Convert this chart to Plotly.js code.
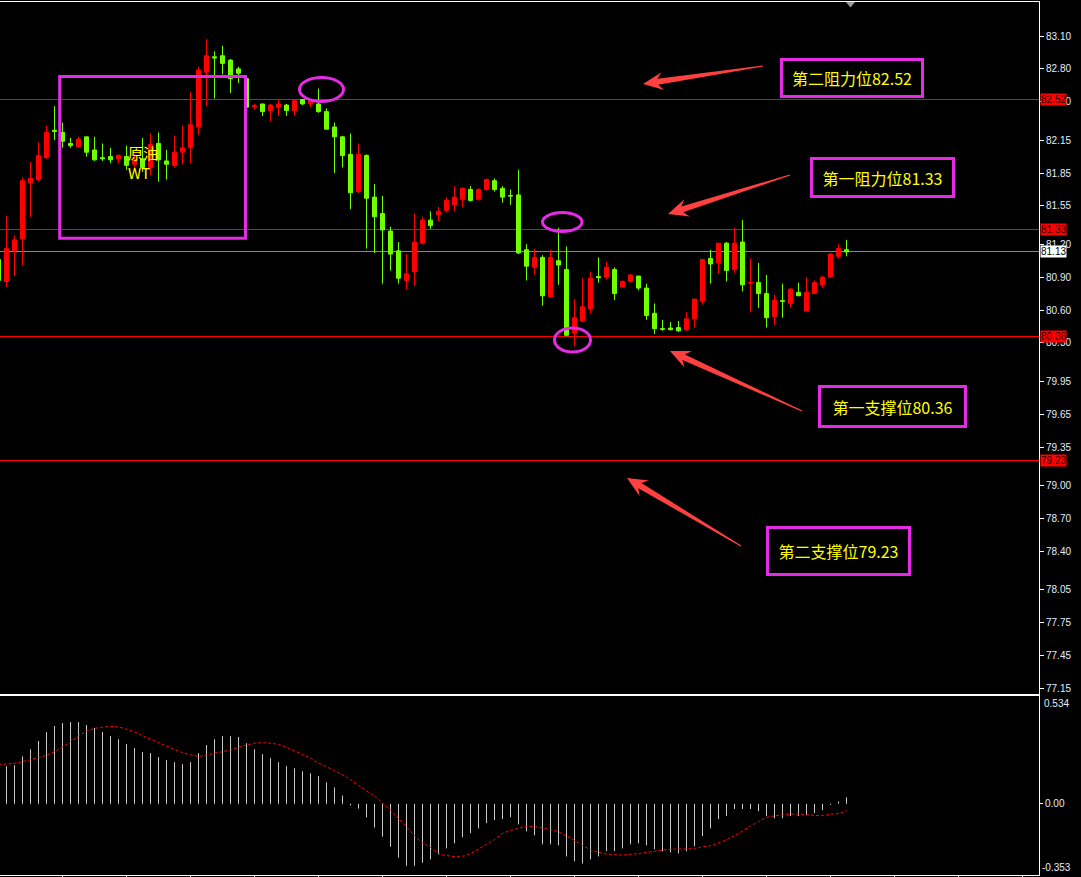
<!DOCTYPE html>
<html>
<head>
<meta charset="utf-8">
<script src="https://cdn.plot.ly/plotly-3.0.1.min.js"></script>
<style>
  html, body { margin: 0; padding: 0; background: #000; overflow: hidden; }
  #chart { width: 1081px; height: 877px; }
</style>
</head>
<body>
<div id="chart"></div>
<script>
// Hourly WTI crude candles, first entry is the bar just off the left edge
const openP = [81.06,
  80.86, 81.14, 81.25, 81.76, 81.79, 81.99, 82.24, 82.22, 82.12, 82.09,
  82.18, 82.06, 81.99, 82.00, 81.98, 82.00, 81.93, 81.98, 81.90, 82.12,
  81.96, 81.92, 82.04, 82.08, 82.27, 82.77, 82.91, 82.92, 82.88, 82.80,
  82.71, 82.455, 82.48, 82.42, 82.45, 82.47, 82.42, 82.52, 82.48, 82.48,
  82.41, 82.27, 82.18, 82.02, 81.68, 82.01, 81.63, 81.48, 81.32, 81.14,
  80.87, 80.95, 81.21, 81.42, 81.47, 81.51, 81.56, 81.61, 81.70, 81.61,
  81.70, 81.78, 81.71, 81.645, 81.65, 81.15, 80.99, 81.08, 80.72, 81.05,
  80.97, 80.39, 80.50, 80.61, 80.905, 80.90, 80.97, 80.81, 80.86, 80.91,
  80.80, 80.57, 80.43, 80.435, 80.44, 80.42, 80.52, 80.68, 81.07, 81.03,
  81.21, 80.97, 81.22, 80.845, 80.85, 80.75, 80.54, 80.685, 80.66, 80.76,
  80.59, 80.75, 80.83, 80.90, 81.09, 81.15];
const highP = [81.10,
  81.46, 81.28, 81.81, 81.95, 82.13, 82.28, 82.46, 82.31, 82.17, 82.18,
  82.18, 82.18, 82.12, 82.08, 82.02, 82.10, 82.02, 82.17, 82.21, 82.22,
  82.06, 82.19, 82.28, 82.59, 82.82, 83.07, 82.96, 83.01, 82.89, 82.82,
  82.71, 82.48, 82.48, 82.48, 82.52, 82.48, 82.52, 82.52, 82.52, 82.62,
  82.44, 82.31, 82.19, 82.21, 82.12, 82.02, 81.75, 81.64, 81.36, 81.22,
  81.11, 81.48, 81.45, 81.50, 81.54, 81.63, 81.73, 81.72, 81.73, 81.71,
  81.80, 81.80, 81.73, 81.70, 81.88, 81.20, 81.16, 81.10, 81.15, 81.35,
  81.18, 80.70, 80.89, 80.95, 81.08, 81.04, 80.99, 80.87, 80.93, 80.91,
  80.84, 80.66, 80.51, 80.49, 80.50, 80.58, 80.70, 81.06, 81.15, 81.21,
  81.22, 81.35, 81.42, 81.07, 81.03, 80.92, 80.74, 80.84, 80.80, 80.85,
  80.90, 80.87, 80.91, 81.12, 81.20, 81.24];
const lowP = [80.82,
  80.81, 80.91, 81.01, 81.45, 81.77, 81.98, 82.15, 82.08, 82.08, 82.08,
  82.00, 81.96, 81.96, 81.94, 81.94, 81.88, 81.88, 81.86, 81.83, 81.77,
  81.79, 81.90, 81.93, 81.94, 82.20, 82.46, 82.53, 82.75, 82.58, 82.67,
  82.45, 82.43, 82.37, 82.32, 82.37, 82.37, 82.37, 82.47, 82.45, 82.40,
  82.25, 81.85, 81.90, 81.52, 81.67, 81.16, 81.12, 80.84, 80.96, 80.84,
  80.79, 80.82, 81.20, 81.34, 81.41, 81.49, 81.50, 81.54, 81.59, 81.60,
  81.69, 81.68, 81.58, 81.56, 81.11, 80.87, 80.92, 80.64, 80.71, 80.83,
  80.36, 80.27, 80.49, 80.57, 80.85, 80.88, 80.69, 80.81, 80.85, 80.78,
  80.51, 80.38, 80.41, 80.415, 80.40, 80.41, 80.44, 80.65, 80.84, 80.93,
  80.86, 80.94, 80.77, 80.58, 80.62, 80.44, 80.46, 80.53, 80.62, 80.73,
  80.59, 80.75, 80.80, 80.90, 81.07, 81.09];
const closeP = [80.87,
  81.16, 81.24, 81.78, 81.80, 82.01, 82.22, 82.23, 82.14, 82.10, 82.16,
  82.04, 81.97, 81.98, 81.97, 82.01, 81.92, 81.97, 81.90, 82.11, 81.97,
  81.93, 82.04, 82.08, 82.29, 82.79, 82.92, 82.90, 82.85, 82.71, 82.76,
  82.45, 82.465, 82.41, 82.47, 82.48, 82.42, 82.51, 82.48, 82.51, 82.41,
  82.25, 82.18, 82.01, 81.67, 82.02, 81.62, 81.45, 81.33, 81.11, 80.89,
  80.93, 81.22, 81.42, 81.37, 81.50, 81.60, 81.63, 81.71, 81.60, 81.70,
  81.79, 81.70, 81.63, 81.64, 81.12, 81.00, 81.08, 80.73, 81.08, 81.01,
  80.37, 80.53, 80.63, 80.89, 80.895, 80.99, 80.75, 80.86, 80.92, 80.80,
  80.55, 80.43, 80.425, 80.42, 80.41, 80.52, 80.70, 81.06, 81.02, 81.21,
  80.96, 81.21, 80.83, 80.85, 80.75, 80.53, 80.69, 80.68, 80.79, 80.73,
  80.76, 80.85, 80.90, 81.11, 81.16, 81.13];

// MACD histogram and signal line, one value per candle
const macdHist = [0.18,
  0.186, 0.191, 0.235, 0.270, 0.311, 0.355, 0.385, 0.400, 0.405, 0.405,
  0.390, 0.376, 0.355, 0.335, 0.320, 0.296, 0.276, 0.256, 0.251, 0.231,
  0.216, 0.206, 0.196, 0.206, 0.251, 0.291, 0.320, 0.335, 0.335, 0.331,
  0.300, 0.270, 0.246, 0.226, 0.206, 0.186, 0.176, 0.161, 0.151, 0.137,
  0.106, 0.081, 0.041, -0.008, -0.024, -0.068, -0.118, -0.163, -0.213, -0.267,
  -0.307, -0.307, -0.292, -0.276, -0.251, -0.221, -0.196, -0.166, -0.146, -0.122,
  -0.096, -0.081, -0.076, -0.067, -0.102, -0.137, -0.156, -0.201, -0.201, -0.206,
  -0.261, -0.285, -0.296, -0.276, -0.261, -0.235, -0.235, -0.221, -0.201, -0.196,
  -0.206, -0.226, -0.235, -0.241, -0.246, -0.235, -0.211, -0.161, -0.122, -0.076,
  -0.061, -0.026, -0.026, -0.026, -0.037, -0.061, -0.072, -0.072, -0.061, -0.061,
  -0.057, -0.046, -0.032, -0.006, 0.011, 0.032];
const macdSignal = [0.195,
  0.197, 0.200, 0.209, 0.218, 0.229, 0.241, 0.259, 0.281, 0.308, 0.336,
  0.359, 0.373, 0.379, 0.383, 0.380, 0.370, 0.356, 0.337, 0.320, 0.303,
  0.286, 0.269, 0.254, 0.243, 0.236, 0.241, 0.251, 0.258, 0.268, 0.280,
  0.291, 0.300, 0.302, 0.300, 0.293, 0.279, 0.262, 0.244, 0.226, 0.202,
  0.183, 0.164, 0.143, 0.120, 0.091, 0.064, 0.037, 0.004, -0.031, -0.073,
  -0.114, -0.159, -0.193, -0.216, -0.247, -0.256, -0.262, -0.260, -0.247, -0.224,
  -0.200, -0.177, -0.148, -0.132, -0.122, -0.112, -0.114, -0.120, -0.128, -0.139,
  -0.159, -0.182, -0.206, -0.227, -0.240, -0.249, -0.252, -0.254, -0.251, -0.247,
  -0.241, -0.236, -0.230, -0.226, -0.224, -0.224, -0.221, -0.213, -0.208, -0.193,
  -0.179, -0.157, -0.135, -0.110, -0.089, -0.068, -0.060, -0.055, -0.051, -0.051,
  -0.055, -0.057, -0.059, -0.052, -0.048, -0.034];

// Support / resistance levels
const levelNames = ['第二阻力位', '第一阻力位', '第一支撑位', '第二支撑位'];
const levelValues = [82.52, 81.33, 80.36, 79.23];

// Price scale ticks (right axis)
const priceTicks = [83.10, 82.80, 82.50, 82.15, 81.85, 81.55, 81.20, 80.90, 80.60, 80.30,
  79.95, 79.65, 79.35, 79.00, 78.70, 78.40, 78.05, 77.75, 77.45, 77.15];
const macdMax = 0.534, macdMin = -0.353;
const timeTicks = [7, 15, 23, 31, 39, 47, 55, 63, 71, 79, 87, 95, 103, 111, 119, 127];
const symbolLabel = '原油<br>WT';

// ---- geometry ----
const W = 1081, H = 877;
const M = { l: 0, r: 42, t: 2, b: 2 };
const plotW = W - M.l - M.r, plotH = H - M.t - M.b;
const BAR_PX = 8;                      // horizontal spacing between candles
const xStart = -0.8125;                // first candle centred on a pixel column
const xEnd = xStart + plotW / BAR_PX;
const mainTopPx = 2, mainBotPx = 694, macdTopPx = 696, macdBotPx = 875;
const PX_PER_UNIT = 109.6;             // price scale
const yTop = 83.10 + (36 - mainTopPx) / PX_PER_UNIT;
const yBot = yTop - (mainBotPx - mainTopPx) / PX_PER_UNIT;
const frac = py => (H - M.b - py) / plotH;

// page pixel -> data coordinates on the price panel (for drawn decorations)
const px2x = px => xStart + (px - M.l) / BAR_PX;
const py2p = py => yTop - (py - mainTopPx) / PX_PER_UNIT;

const idx = openP.map((_, k) => k - 1);
const lastClose = closeP[closeP.length - 1];

const UP = '#ff0000', DOWN = '#70ff00';
const MAGENTA = '#e62be6', YELLOW = '#ffff00', ARROW = '#ff4040';
const AXIS_TXT = '#e4ecfa';

// ---- traces ----
const candles = {
  type: 'candlestick', x: idx, open: openP, high: highP, low: lowP, close: closeP,
  xaxis: 'x', yaxis: 'y',
  increasing: { line: { color: UP, width: 1 }, fillcolor: UP },
  decreasing: { line: { color: DOWN, width: 1 }, fillcolor: DOWN },
  whiskerwidth: 0, hoverinfo: 'skip', showlegend: false
};

const hx = [], hy = [];
macdHist.forEach((v, k) => { hx.push(idx[k], idx[k], null); hy.push(0, v, null); });
const hist = {
  type: 'scatter', mode: 'lines', x: hx, y: hy, xaxis: 'x2', yaxis: 'y2',
  line: { color: '#c8c8c8', width: 1 }, hoverinfo: 'skip', showlegend: false
};
const signal = {
  type: 'scatter', mode: 'lines', x: idx, y: macdSignal, xaxis: 'x2', yaxis: 'y2',
  line: { color: '#ff0000', width: 1, dash: '3px,2px', shape: 'spline' },
  hoverinfo: 'skip', showlegend: false
};

// ---- shapes ----
const shapes = [];
levelValues.forEach(v => shapes.push({
  type: 'line', xref: 'x domain', yref: 'y', x0: 0, x1: 1, y0: v, y1: v,
  line: { color: '#ff0000', width: 1 }, layer: 'below'
}));
shapes.push({
  type: 'line', xref: 'x domain', yref: 'y', x0: 0, x1: 1, y0: lastClose, y1: lastClose,
  line: { color: '#7a8a9c', width: 1 }, layer: 'below'
});

// highlight frame around the symbol name
shapes.push({
  type: 'rect', xref: 'x', yref: 'y',
  x0: px2x(59.7), x1: px2x(245.5), y0: py2p(76.5), y1: py2p(238.3),
  line: { color: MAGENTA, width: 3 }
});

// rings around the tested highs / lows
[[299.5, 343.5, 77.5, 101.5], [542.5, 582, 212.5, 231.5], [554.5, 590.5, 328, 352]]
  .forEach(([a, b, c, d]) => shapes.push({
    type: 'circle', xref: 'x', yref: 'y',
    x0: px2x(a), x1: px2x(b), y0: py2p(c), y1: py2p(d),
    line: { color: MAGENTA, width: 3 }
  }));

// tapered pointer arrows, built in pixels then mapped to data space
function arrowPath(tail, tip) {
  const dx = tip[0] - tail[0], dy = tip[1] - tail[1];
  const len = Math.hypot(dx, dy);
  const ux = dx / len, uy = dy / len, nx = -uy, ny = ux;
  const P = (along, side) => [tip[0] - ux * along + nx * side, tip[1] - uy * along + ny * side];
  const pts = [
    tip, P(20, 9), P(15, 3), [tail[0] + nx * 0.6, tail[1] + ny * 0.6],
    [tail[0] - nx * 0.6, tail[1] - ny * 0.6], P(15, -3), P(20, -9)
  ];
  return 'M' + pts.map(p => px2x(p[0]) + ',' + py2p(p[1])).join(' L') + ' Z';
}
[[[763, 66], [643, 84]], [[790, 175], [668, 214]], [[802, 411], [670, 351]], [[741, 546], [627, 478]]]
  .forEach(([tail, tip]) => shapes.push({
    type: 'path', xref: 'x', yref: 'y', path: arrowPath(tail, tip),
    fillcolor: ARROW, line: { width: 0 }
  }));

// chart-shift marker at the top edge
shapes.push({
  type: 'path', xref: 'x', yref: 'y',
  path: 'M' + px2x(846) + ',' + py2p(2) + ' L' + px2x(855) + ',' + py2p(2) + ' L' + px2x(850.5) + ',' + py2p(7.5) + ' Z',
  fillcolor: '#9a9a9a', line: { width: 0 }
});

// ---- annotations ----
const annotations = [];
// price tags on the right scale
levelValues.forEach(v => annotations.push({
  xref: 'paper', yref: 'y', x: 1, y: v, xanchor: 'left', xshift: 1,
  text: v.toFixed(2), showarrow: false, bgcolor: '#ff0000', borderpad: 0,
  font: { family: 'Liberation Sans, Arial, sans-serif', size: 10, color: '#1a0000' }
}));
annotations.push({
  xref: 'paper', yref: 'y', x: 1, y: lastClose, xanchor: 'left', xshift: 1,
  text: lastClose.toFixed(2), showarrow: false, bgcolor: '#ffffff', borderpad: 0,
  font: { family: 'Liberation Sans, Arial, sans-serif', size: 10, color: '#000000' }
});
// MACD scale extremes
annotations.push({
  xref: 'paper', yref: 'y2', x: 1, y: macdMax, xanchor: 'left', yanchor: 'top', xshift: 3,
  text: macdMax.toFixed(3), showarrow: false,
  font: { family: 'Liberation Sans, Arial, sans-serif', size: 10, color: AXIS_TXT }
});
annotations.push({
  xref: 'paper', yref: 'y2', x: 1, y: macdMin, xanchor: 'left', yanchor: 'bottom', xshift: 1,
  text: macdMin.toFixed(3), showarrow: false,
  font: { family: 'Liberation Sans, Arial, sans-serif', size: 10, color: AXIS_TXT }
});
// symbol name
annotations.push({
  xref: 'x', yref: 'y', x: px2x(126), y: py2p(162), xanchor: 'left', yanchor: 'middle',
  text: symbolLabel, align: 'left', showarrow: false,
  font: { family: 'Noto Sans CJK SC, sans-serif', size: 15, color: YELLOW }
});
// level call-out boxes: [centre x, centre y, width, height]
const boxGeom = [[851.5, 77.5, 138, 34], [882, 177, 139, 35], [892, 406, 143, 37], [838, 550.5, 139, 44]];
levelNames.forEach((name, k) => {
  const g = boxGeom[k];
  annotations.push({
    xref: 'x', yref: 'y', x: px2x(g[0]), y: py2p(g[1]), xanchor: 'center', yanchor: 'middle',
    text: name + levelValues[k].toFixed(2), showarrow: false,
    width: g[2], height: g[3], borderpad: 0, borderwidth: 3, bordercolor: MAGENTA,
    font: { family: 'Noto Sans CJK SC, sans-serif', size: 16, color: YELLOW }
  });
});

const tickFont = { family: 'Liberation Sans, Arial, sans-serif', size: 10, color: AXIS_TXT };

const layout = {
  width: W, height: H, margin: M,
  paper_bgcolor: '#000000', plot_bgcolor: '#000000',
  showlegend: false, boxgap: 0.5, boxgroupgap: 0, hovermode: false,
  xaxis: {
    domain: [0, 1], anchor: 'y', range: [xStart, xEnd], rangeslider: { visible: false },
    showgrid: false, zeroline: false, showticklabels: false, ticks: '',
    showline: true, mirror: true, linecolor: '#ffffff', linewidth: 1
  },
  yaxis: {
    domain: [frac(mainBotPx), frac(mainTopPx)], anchor: 'x', side: 'right', range: [yBot, yTop],
    tickvals: priceTicks, ticktext: priceTicks.map(v => v.toFixed(2)),
    ticks: 'outside', ticklen: 4, tickcolor: '#ffffff', tickfont: tickFont,
    showgrid: false, zeroline: false, showline: true, linecolor: '#ffffff', linewidth: 1
  },
  xaxis2: {
    domain: [0, 1], anchor: 'y2', range: [xStart, xEnd],
    showgrid: false, zeroline: false, showticklabels: false,
    tickvals: timeTicks, ticks: 'outside', ticklen: 3, tickcolor: '#ffffff',
    showline: true, mirror: true, linecolor: '#ffffff', linewidth: 1
  },
  yaxis2: {
    domain: [frac(macdBotPx), frac(macdTopPx)], anchor: 'x2', side: 'right', range: [macdMin, macdMax],
    tickvals: [0], ticktext: ['0.00'], ticks: 'outside', ticklen: 3, tickcolor: '#ffffff',
    tickfont: tickFont, showgrid: false, zeroline: false,
    showline: true, linecolor: '#ffffff', linewidth: 1
  },
  shapes: shapes,
  annotations: annotations
};

Plotly.newPlot('chart', [candles, hist, signal], layout, { staticPlot: true, displayModeBar: false })
  .then(gd => {
    // keep the horizontal level lines one pixel sharp
    gd.querySelectorAll('.layer-below .shapelayer path').forEach(p => {
      p.style.shapeRendering = 'crispEdges';
    });
  });
</script>
</body>
</html>
